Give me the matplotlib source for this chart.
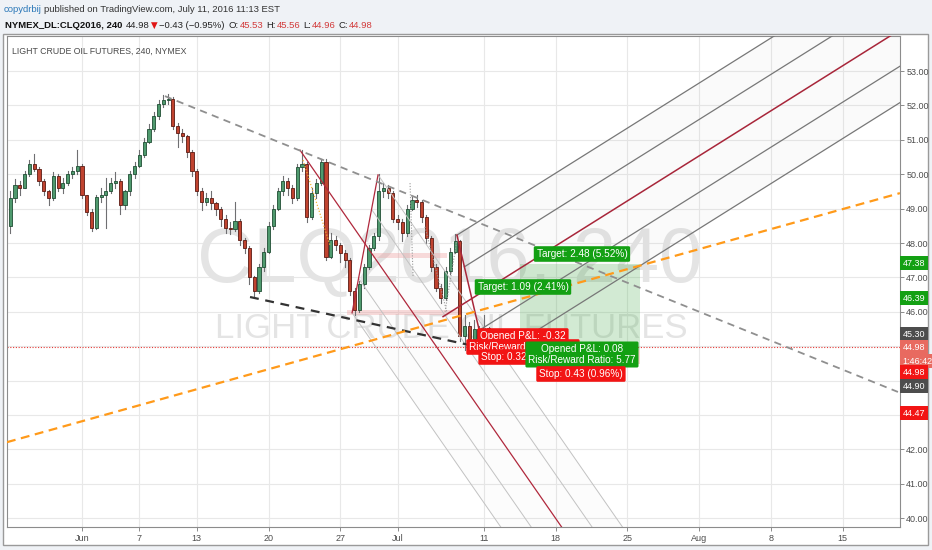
import numpy as np
import matplotlib
matplotlib.use("Agg")
import matplotlib.pyplot as plt
from matplotlib.patches import Rectangle, Polygon
import matplotlib.transforms as mtrans

# ---------------- data ----------------
first_open = 48.5
closes = [49.3, 49.7, 49.6, 50.0, 50.3, 50.15, 49.8, 49.5, 49.3, 49.95,
          49.6, 49.75, 50.0, 50.1, 50.25, 49.4, 48.9, 48.45, 49.35, 49.4,
          49.5, 49.75, 49.8, 49.1, 49.5, 50.0, 50.25, 50.55, 50.95, 51.3,
          51.7, 52.05, 52.15, 52.2, 51.4, 51.2, 51.1, 50.65, 50.1, 49.5,
          49.2, 49.3, 49.15, 49.0, 48.7, 48.45, 48.4, 48.65, 48.1, 47.85,
          47.0, 46.6, 47.3, 47.75, 48.5, 49.0, 49.5, 49.8, 49.6, 49.3,
          50.2, 50.3, 48.75, 49.45, 49.75, 50.35, 47.6, 48.1, 47.95, 47.7,
          47.5, 46.6, 46.05, 46.8, 47.3, 47.85, 48.2, 49.5, 49.6, 49.45,
          48.7, 48.6, 48.3, 49.0, 49.25, 49.2, 48.75, 48.15, 47.3, 46.7,
          46.4, 47.2, 47.75, 48.05, 45.3, 45.6, 45.2, 45.5, 45.05, 45.53,
          44.98]
highs = [49.5, 49.85, 49.8, 50.1, 50.4, 50.6, 50.2, 49.85, 49.55, 50.05,
         50.0, 49.9, 50.1, 50.2, 50.7, 50.3, 49.4, 49.0, 49.4, 49.6,
         49.9, 49.9, 50.05, 49.85, 49.55, 50.1, 50.35, 50.7, 51.05, 51.45,
         51.8, 52.15, 52.3, 52.32, 52.25, 51.5, 51.3, 51.15, 50.7, 50.15,
         49.6, 49.45, 49.5, 49.2, 49.05, 48.8, 48.6, 49.2, 48.7, 48.15,
         47.9, 47.05, 47.4, 47.85, 48.6, 49.1, 49.6, 49.95, 49.9, 49.7,
         50.3, 50.7, 50.35, 49.6, 49.85, 50.45, 50.45, 48.3, 48.2, 48.0,
         47.8, 47.55, 46.7, 46.9, 47.4, 47.95, 48.3, 50.0, 49.75, 49.7,
         49.5, 48.8, 48.7, 49.1, 49.35, 49.4, 49.25, 48.8, 48.2, 47.4,
         46.8, 47.3, 47.85, 48.25, 48.1, 45.9, 45.7, 45.75, 45.6, 45.9,
         45.56]
lows = [48.3, 49.2, 49.4, 49.6, 49.95, 50.1, 49.7, 49.4, 49.1, 49.25,
        49.5, 49.45, 49.7, 49.9, 50.0, 49.3, 48.8, 48.35, 48.4, 49.2,
        48.45, 49.45, 49.6, 48.85, 49.0, 49.4, 49.9, 50.2, 50.5, 50.9,
        51.25, 51.6, 51.95, 52.05, 51.3, 50.8, 50.95, 50.5, 49.95, 49.4,
        48.95, 49.1, 49.0, 48.8, 48.5, 48.3, 48.25, 48.35, 47.95, 47.7,
        46.8, 46.43, 46.55, 47.2, 47.7, 48.4, 48.95, 49.4, 49.4, 49.15,
        49.25, 50.1, 48.6, 48.7, 49.3, 49.7, 47.5, 47.55, 47.8, 47.45,
        47.3, 46.5, 45.92, 46.0, 46.7, 47.25, 47.8, 48.1, 49.35, 49.3,
        48.6, 48.4, 48.05, 48.2, 48.95, 49.05, 48.6, 48.0, 47.2, 46.6,
        46.25, 46.35, 47.1, 47.7, 45.15, 44.9, 44.85, 45.0, 44.9, 45.0,
        44.96]
first_bar_day = -5.0          # trading-day index of first bar (Jun 1 = 0)
bars_per_day = 3

tick_days = [0, 4, 8, 13, 18, 22, 28, 33, 38, 43, 48, 53]
tick_labels = ['Jun', '7', '13', '20', '27', 'Jul', '11', '18', '25', 'Aug', '8', '15']
price_grid = list(range(40, 54))
hidden_price_labels = [43, 44, 45]

last_price = 44.98
resistance = [(5.78, 52.27), (56.86, 43.67)]
support = [(11.71, 46.43), (27.04, 45.03)]
orange_trend = [(-5.23, 42.21), (57.0, 49.45)]
fib_dotted = [(15.4, 50.41), (17.28, 47.94)]
gray_dotted = [[(22.86, 49.74), (23.07, 47.01)],
               [(23.90, 48.47), (25.44, 45.97)],
               [(25.30, 46.00), (26.13, 48.09)]]
pitchfork_low = [(15.19, 50.70), (18.82, 45.97), (20.63, 49.98)]
pitchfork_high = [(25.16, 45.86), (26.13, 48.23), (28.20, 44.54)]

long_pos = dict(start=30.52, end=38.89, entry=44.90, target=47.38, stop=44.47)
pink_zones = [(20.28, 25.44, 47.56, 47.71), (18.47, 26.34, 45.91, 46.05)]

price_tags = [('47.38', '#13a013'), ('46.39', '#13a013'), ('45.30', '#4d4d4d'),
              ('44.98', '#e86a60'), ('1:46:42', '#e86a60'), ('44.98', '#f21414'),
              ('44.90', '#4d4d4d'), ('44.47', '#f21414')]
tag_px = [263, 298, 334, 347, 361, 372, 386, 413]

header_line1 = [('copydrbij', '#2b78b8'),
                ('published on TradingView.com, July 11, 2016 11:13 EST', '#333333')]
header_line2 = [('NYMEX_DL:CLQ2016, 240', '#111111', 'bold'),
                ('44.98', '#222222', 'normal'),
                ('\u25bc', '#e01515', 'normal'),
                ('\u22120.43 (\u22120.95%)', '#222222', 'normal'),
                ('O:', '#222222', 'normal'), ('45.53', '#d23a3a', 'normal'),
                ('H:', '#222222', 'normal'), ('45.56', '#d23a3a', 'normal'),
                ('L:', '#222222', 'normal'), ('44.96', '#d23a3a', 'normal'),
                ('C:', '#222222', 'normal'), ('44.98', '#d23a3a', 'normal')]

# ---------------- figure ----------------
W, H, DPI = 932, 550, 100
UI = ['Liberation Sans', 'DejaVu Sans']
plt.rcParams['font.family'] = UI
fig = plt.figure(figsize=(W / DPI, H / DPI), dpi=DPI, facecolor='#eff2f6')


def fx(px):
    return px / W


def fy(py):
    return 1 - py / H


fig.patches.append(Rectangle((fx(3), fy(545)), fx(928) - fx(3), fy(34) - fy(545),
                             transform=fig.transFigure, fc='white', ec='#9a9a9a',
                             lw=1.0, zorder=-5))

ax = fig.add_axes([fx(7), fy(527), fx(900) - fx(7), fy(36) - fy(527)])
ax.set_zorder(2)
PPD = 34.4      # pixels per dollar
PX_DAY = 14.35  # pixels per trading day
X0, X1 = (7 - 82) / PX_DAY, (900 - 82) / PX_DAY
Y0, Y1 = 53 - (527 - 71) / PPD, 53 + (71 - 36) / PPD
ax.set_xlim(X0, X1)
ax.set_ylim(Y0, Y1)
ax.set_facecolor('white')
ax.set_autoscale_on(False)


def py2price(py):
    return 53 - (py - 71) / PPD


# grid
for p in price_grid:
    ax.axhline(p, color='#e8e8e8', lw=0.8, zorder=0)
for d in tick_days:
    ax.axvline(d, color='#e8e8e8', lw=0.8, zorder=0)

# watermark
ax.text(0.496, 0.54, 'CLQ2016, 240', transform=ax.transAxes, ha='center', va='center',
        fontsize=56, color='#e4e4e4', zorder=0.5)
ax.text(0.498, 0.405, 'LIGHT CRUDE OIL FUTURES', transform=ax.transAxes, ha='center',
        va='center', fontsize=25, color='#e4e4e4', zorder=0.5)


def pitchfork(pts, tine_color, med_color, lw, fill_alpha):
    A, B, C = (np.array(p, float) for p in pts)
    M = (B + C) / 2
    v = (M - A) * 25
    poly = Polygon([B, B + v, C + v, C], closed=True, fc='#7a7a7a',
                   alpha=fill_alpha, ec='none', zorder=1)
    ax.add_patch(poly)
    for P in (B, (B + M) / 2, (M + C) / 2, C):
        ax.plot([P[0], P[0] + v[0]], [P[1], P[1] + v[1]], color=tine_color, lw=lw, zorder=4)
    ax.plot([A[0], A[0] + v[0]], [A[1], A[1] + v[1]], color=med_color, lw=lw + 0.2, zorder=4)
    ax.plot([B[0], C[0]], [B[1], C[1]], color=med_color, lw=lw + 0.2, zorder=4)


pitchfork(pitchfork_low, '#c2c2c2', '#b0283c', 0.7, 0.02)
pitchfork(pitchfork_high, '#777777', '#a8263a', 0.9, 0.03)

# pink zones
for x0, x1, p0, p1 in pink_zones:
    ax.add_patch(Rectangle((x0, p0), x1 - x0, p1 - p0, fc='#ef9a9a', alpha=0.35,
                           ec='none', zorder=1.5))

# long position zones
lp = long_pos
ax.add_patch(Rectangle((lp['start'], lp['entry']), lp['end'] - lp['start'],
                       lp['target'] - lp['entry'], fc='#4caf50', alpha=0.25, ec='none', zorder=1.6))
ax.add_patch(Rectangle((lp['start'], lp['stop']), lp['end'] - lp['start'],
                       lp['entry'] - lp['stop'], fc='#ef5350', alpha=0.25, ec='none', zorder=1.6))

# candles
opens = [first_open] + closes[:-1]
bw = 0.22
for i, (o, c, h, l) in enumerate(zip(opens, closes, highs, lows)):
    x = first_bar_day + i / bars_per_day
    up = c >= o
    ax.plot([x, x], [l, h], color='#6f6f72', lw=0.8, zorder=3)
    lo, hi = min(o, c), max(o, c)
    ax.add_patch(Rectangle((x - bw / 2, lo), bw, max(hi - lo, 0.02),
                           fc='#4f9a6e' if up else '#c0432f',
                           ec='#1f4d33' if up else '#5b1a13', lw=0.6, zorder=3.2))

# trend lines
(xa, ya), (xb, yb) = resistance
ax.plot([xa, xb], [ya, yb], color='#8f8f8f', lw=1.3, dashes=(4, 3), zorder=4)
(xa, ya), (xb, yb) = support
ax.plot([xa, xb], [ya, yb], color='#333333', lw=1.6, dashes=(4, 3), zorder=4)
(xa, ya), (xb, yb) = orange_trend
ax.plot([xa, xb], [ya, yb], color='#ff9a1a', lw=1.6, dashes=(4, 2.5), zorder=4)
(xa, ya), (xb, yb) = fib_dotted
ax.plot([xa, xb], [ya, yb], color='#f2b233', lw=0.9, dashes=(1, 1.5), zorder=4)
for (xa, ya), (xb, yb) in gray_dotted:
    ax.plot([xa, xb], [ya, yb], color='#9a9a9a', lw=0.8, dashes=(1, 1.5), zorder=4)

# last price line
ax.axhline(last_price, color='#e53935', lw=0.8, dashes=(1, 1.5), zorder=2)

GREEN, RED = '#13a013', '#f21414'


def label(x, y, s, fc, z):
    ax.text(x, y, s, ha='center', va='center', fontsize=7.2, color='white', zorder=z,
            linespacing=1.05,
            bbox=dict(boxstyle='round,pad=0.28,rounding_size=0.15', fc=fc, ec='none'))


label(30.73, py2price(336), 'Opened P&L: -0.32', RED, 6)
label(30.73, py2price(347), 'Risk/Reward Ratio: 3.41', RED, 6.1)
label(30.73, py2price(357), 'Stop: 0.32 (0.71%)', RED, 6.2)
label(34.84, py2price(254), 'Target: 2.48 (5.52%)', GREEN, 6.3)
label(30.73, py2price(287), 'Target: 1.09 (2.41%)', GREEN, 6.3)
label(34.84, py2price(354.5), 'Opened P&L: 0.08\nRisk/Reward Ratio: 5.77', GREEN, 6.4)
label(34.77, py2price(374), 'Stop: 0.43 (0.96%)', RED, 6.5)

# axes styling
for s in ax.spines.values():
    s.set_color('#8c8c8c')
    s.set_linewidth(0.8)
ax.yaxis.tick_right()
ax.set_yticks(price_grid)
ax.set_yticklabels(['' if p in hidden_price_labels else f'{p:.2f}' for p in price_grid])
ax.set_xticks(tick_days)
ax.set_xticklabels(tick_labels)
ax.tick_params(axis='y', length=3, width=0.7, color='#8c8c8c', labelsize=6.5,
               labelcolor='#4d4d4d', pad=1.5)
ax.tick_params(axis='x', length=3, width=0.7, color='#8c8c8c', labelsize=6.5,
               labelcolor='#4d4d4d', pad=2)

# price tags
btr = mtrans.blended_transform_factory(ax.transAxes, ax.transData)
for (txt, col), ypx in zip(price_tags, tag_px):
    ax.text(1.003, py2price(ypx), txt, transform=btr, ha='left', va='center', fontsize=6.5,
            color='white', clip_on=False, zorder=10,
            bbox=dict(boxstyle='square,pad=0.3', fc=col, ec='none'))

# title inside chart
fig.text(fx(12), fy(51), 'LIGHT CRUDE OIL FUTURES, 240, NYMEX', fontsize=6.3,
         color='#4a4a4a', ha='left', va='center', zorder=5)

# header (laid out left to right)
renderer = fig.canvas.get_renderer()
x = 4
for i, (s, c) in enumerate(header_line1):
    t = fig.text(fx(x), fy(9), s, fontsize=6.8, color=c, ha='left', va='center')
    x = t.get_window_extent(renderer).x1 + 2.5
gaps = [3, 2, 1, 4, 1, 3, 1, 3, 1, 3, 1, 0]
x = 5
for (s, c, w), g in zip(header_line2, gaps):
    fam = ['DejaVu Sans'] if s == '\u25bc' else UI
    fs = 6.2 if s == '\u25bc' else 6.8
    t = fig.text(fx(x), fy(25), s, fontsize=fs, color=c, fontweight=w, ha='left',
                 va='center', family=fam)
    x = t.get_window_extent(renderer).x1 + g

fig.savefig('out.png', dpi=DPI, facecolor=fig.get_facecolor())
